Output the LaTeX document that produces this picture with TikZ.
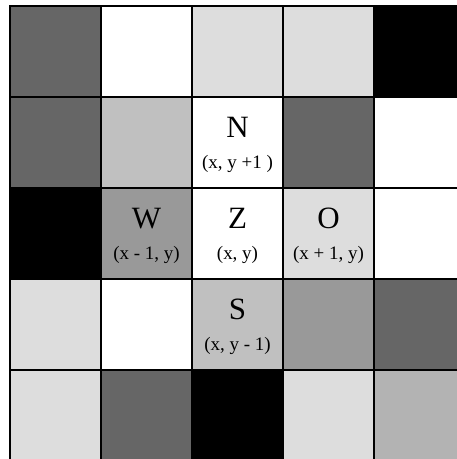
\documentclass[tikz,border=0pt]{standalone}
\usepackage{fontspec}
\setmainfont{Liberation Serif}
\usepackage{tikz}
\definecolor{gDark}{HTML}{666666}
\definecolor{gMid}{HTML}{999999}
\definecolor{gSoft}{HTML}{B3B3B3}
\definecolor{gLight}{HTML}{C0C0C0}
\definecolor{gPale}{HTML}{DDDDDD}

\begin{document}
\begin{tikzpicture}[x=1pt,y=-1pt]
    \tikzstyle{cell}=[draw=black, line width=1.6pt, minimum width=91pt,
      minimum height=91pt, inner sep=0pt, outer sep=0pt]
    \tikzstyle{letter}=[anchor=base, inner sep=0pt, font=\fontsize{31}{31}\selectfont]
    \tikzstyle{coord}=[anchor=base, inner sep=0pt, font=\fontsize{19}{19}\selectfont]

    \clip (0,0) rectangle (457,459);
    \fill[white] (0,0) rectangle (457,459);

    % row 1
    \node[cell, fill=gDark]  (c11) at (55.5,51.5) {};
    \node[cell, fill=white]  (c12) at (146.5,51.5) {};
    \node[cell, fill=gPale]  (c13) at (237.5,51.5) {};
    \node[cell, fill=gPale]  (c14) at (328.5,51.5) {};
    \node[cell, fill=black]  (c15) at (419.5,51.5) {};
    % row 2
    \node[cell, fill=gDark]  (c21) at (55.5,142.5) {};
    \node[cell, fill=gLight] (c22) at (146.5,142.5) {};
    \node[cell, fill=white]  (c23) at (237.5,142.5) {};
    \node[cell, fill=gDark]  (c24) at (328.5,142.5) {};
    \node[cell, fill=white]  (c25) at (419.5,142.5) {};
    % row 3
    \node[cell, fill=black]  (c31) at (55.5,233.5) {};
    \node[cell, fill=gMid]   (c32) at (146.5,233.5) {};
    \node[cell, fill=white]  (c33) at (237.5,233.5) {};
    \node[cell, fill=gPale]  (c34) at (328.5,233.5) {};
    \node[cell, fill=white]  (c35) at (419.5,233.5) {};
    % row 4
    \node[cell, fill=gPale]  (c41) at (55.5,324.5) {};
    \node[cell, fill=white]  (c42) at (146.5,324.5) {};
    \node[cell, fill=gLight] (c43) at (237.5,324.5) {};
    \node[cell, fill=gMid]   (c44) at (328.5,324.5) {};
    \node[cell, fill=gDark]  (c45) at (419.5,324.5) {};
    % row 5
    \node[cell, fill=gPale]  (c51) at (55.5,415.5) {};
    \node[cell, fill=gDark]  (c52) at (146.5,415.5) {};
    \node[cell, fill=black]  (c53) at (237.5,415.5) {};
    \node[cell, fill=gPale]  (c54) at (328.5,415.5) {};
    \node[cell, fill=gSoft]  (c55) at (419.5,415.5) {};

    % neighbours
    \node[letter] (tN) at (237.5,137) {N};
    \node[coord]  (pN) at (237.5,168.5) {(x, y +1 )};
    \node[letter] (tW) at (146.5,228) {W};
    \node[coord]  (pW) at (146.5,259.5) {(x - 1, y)};
    \node[letter] (tZ) at (237.5,228) {Z};
    \node[coord]  (pZ) at (237.5,259.5) {(x, y)};
    \node[letter] (tO) at (328.5,228) {O};
    \node[coord]  (pO) at (328.5,259.5) {(x + 1, y)};
    \node[letter] (tS) at (237.5,319) {S};
    \node[coord]  (pS) at (237.5,350.5) {(x, y - 1)};
\end{tikzpicture}
\end{document}
